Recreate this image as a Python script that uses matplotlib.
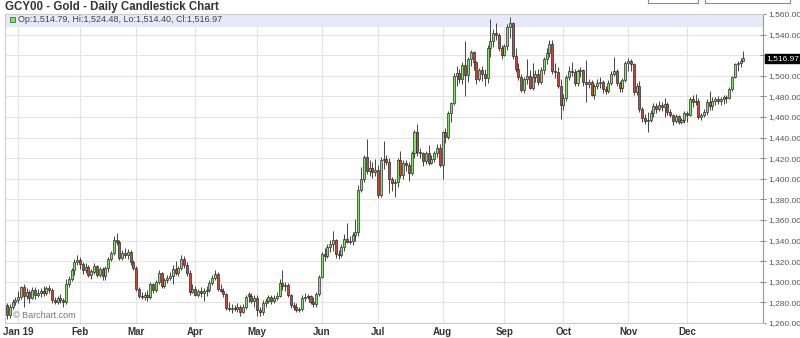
import numpy as np
import pandas as pd
import matplotlib
matplotlib.use('Agg')
import matplotlib.pyplot as plt
from matplotlib.patches import Rectangle

plt.rcParams['font.family'] = ['Liberation Sans', 'DejaVu Sans']

# daily OHLC, 2018-12-26 .. 2019-12-31 (all weekdays except Jan 1 and Dec 25)
opens = [1277, 1268, 1276, 1280, 1282, 1285, 1295, 1286, 1290, 1284, 1292, 1287, 1289, 1291, 1289, 1294,
         1292, 1282, 1280, 1284, 1282, 1280, 1298, 1303, 1311, 1319, 1321, 1317, 1311, 1314, 1307, 1310,
         1315, 1307, 1312, 1306, 1313, 1322, 1328, 1341, 1339, 1323, 1328, 1326, 1329, 1319, 1313, 1293,
         1286, 1285, 1287, 1285, 1298, 1292, 1300, 1309, 1296, 1302, 1304, 1306, 1312, 1309, 1313, 1322,
         1316, 1309, 1290, 1293, 1287, 1291, 1289, 1291, 1292, 1299, 1304, 1308, 1293, 1291, 1288, 1275,
         1274, 1275, 1274, 1276, 1271, 1276, 1288, 1286, 1281, 1284, 1273, 1271, 1279, 1281, 1285, 1281,
         1284, 1286, 1299, 1296, 1297, 1287, 1277, 1276, 1273, 1274, 1284, 1285, 1286, 1280, 1278, 1288,
         1305, 1327, 1325, 1334, 1337, 1341, 1327, 1326, 1334, 1342, 1339, 1340, 1345, 1348, 1389, 1400,
         1421, 1408, 1410, 1407, 1409, 1384, 1418, 1419, 1416, 1400, 1396, 1397, 1418, 1404, 1415, 1413,
         1406, 1425, 1445, 1426, 1425, 1417, 1425, 1415, 1419, 1425, 1430, 1413, 1445, 1441, 1464, 1474,
         1500, 1503, 1497, 1510, 1501, 1516, 1523, 1513, 1497, 1506, 1502, 1498, 1527, 1534, 1542, 1540,
         1527, 1520, 1529, 1547, 1551, 1519, 1507, 1499, 1486, 1497, 1500, 1488, 1499, 1502, 1494, 1506,
         1516, 1522, 1531, 1505, 1504, 1490, 1472, 1478, 1499, 1505, 1504, 1493, 1505, 1506, 1494, 1492,
         1494, 1481, 1490, 1493, 1494, 1487, 1485, 1493, 1502, 1505, 1493, 1488, 1496, 1512, 1514, 1511,
         1484, 1490, 1468, 1459, 1456, 1457, 1464, 1471, 1468, 1472, 1470, 1473, 1465, 1462, 1456, 1461,
         1455, 1457, 1464, 1462, 1477, 1475, 1476, 1460, 1462, 1465, 1475, 1471, 1476, 1477, 1476, 1477,
         1479, 1478, 1487, 1499, 1511, 1512, 1514.79]
highs = [1279, 1278, 1283, 1285, 1291, 1296, 1298, 1294, 1292, 1295, 1295, 1293, 1294, 1296, 1296, 1297,
         1294, 1285, 1286, 1288, 1284, 1303, 1306, 1313, 1322, 1326, 1324, 1319, 1318, 1316, 1312, 1318,
         1316, 1314, 1314, 1315, 1324, 1330, 1344, 1347, 1341, 1331, 1333, 1332, 1331, 1321, 1315, 1295,
         1290, 1290, 1292, 1300, 1299, 1302, 1311, 1310, 1304, 1307, 1310, 1316, 1320, 1315, 1326, 1325,
         1319, 1311, 1298, 1296, 1293, 1295, 1294, 1296, 1302, 1307, 1311, 1310, 1298, 1294, 1289, 1280,
         1278, 1277, 1279, 1277, 1278, 1287, 1290, 1289, 1287, 1287, 1276, 1282, 1284, 1287, 1287, 1287,
         1290, 1303, 1311, 1300, 1299, 1288, 1280, 1279, 1276, 1287, 1289, 1288, 1287, 1285, 1290, 1307,
         1329, 1333, 1337, 1341, 1349, 1342, 1331, 1337, 1346, 1357, 1344, 1348, 1361, 1394, 1411, 1423,
         1439, 1418, 1416, 1419, 1413, 1421, 1437, 1423, 1420, 1402, 1400, 1420, 1427, 1418, 1418, 1416,
         1427, 1447, 1453, 1430, 1426, 1427, 1433, 1423, 1427, 1434, 1434, 1446, 1449, 1466, 1475, 1503,
         1510, 1507, 1513, 1534, 1518, 1525, 1524, 1514, 1508, 1510, 1507, 1530, 1555, 1545, 1551, 1542,
         1530, 1531, 1550, 1557, 1552, 1527, 1512, 1502, 1499, 1516, 1506, 1512, 1506, 1507, 1509, 1518,
         1527, 1535, 1535, 1512, 1509, 1497, 1482, 1501, 1510, 1513, 1507, 1507, 1509, 1507, 1515, 1497,
         1496, 1492, 1497, 1499, 1496, 1490, 1496, 1505, 1518, 1507, 1495, 1498, 1514, 1517, 1516, 1512,
         1493, 1495, 1470, 1463, 1465, 1467, 1474, 1474, 1476, 1475, 1478, 1475, 1468, 1463, 1463, 1462,
         1459, 1466, 1466, 1479, 1481, 1482, 1478, 1464, 1468, 1477, 1485, 1479, 1479, 1480, 1479, 1481,
         1481, 1489, 1500, 1512, 1514, 1517, 1524.48]
lows = [1264, 1265, 1274, 1277, 1279, 1283, 1276, 1283, 1279, 1283, 1283, 1285, 1285, 1286, 1287, 1289,
        1279, 1278, 1278, 1279, 1276, 1278, 1295, 1301, 1307, 1316, 1312, 1308, 1309, 1305, 1303, 1308,
        1305, 1305, 1302, 1302, 1310, 1320, 1326, 1336, 1321, 1321, 1323, 1322, 1316, 1311, 1291, 1284,
        1283, 1282, 1281, 1283, 1289, 1290, 1298, 1294, 1294, 1299, 1302, 1298, 1307, 1306, 1311, 1313,
        1306, 1287, 1289, 1286, 1285, 1285, 1281, 1286, 1290, 1297, 1302, 1291, 1290, 1285, 1273, 1272,
        1270, 1272, 1271, 1267, 1270, 1274, 1280, 1279, 1276, 1267, 1267, 1268, 1276, 1279, 1278, 1279,
        1282, 1285, 1292, 1291, 1285, 1275, 1273, 1271, 1271, 1272, 1281, 1283, 1278, 1276, 1276, 1286,
        1304, 1320, 1323, 1329, 1330, 1323, 1322, 1324, 1330, 1338, 1337, 1336, 1340, 1344, 1387, 1397,
        1405, 1403, 1401, 1403, 1381, 1382, 1410, 1413, 1386, 1388, 1382, 1392, 1401, 1400, 1408, 1398,
        1404, 1420, 1422, 1420, 1412, 1414, 1413, 1414, 1416, 1421, 1411, 1400, 1435, 1439, 1455, 1472,
        1490, 1493, 1492, 1480, 1494, 1510, 1506, 1492, 1495, 1495, 1490, 1493, 1518, 1528, 1535, 1524,
        1516, 1519, 1525, 1537, 1516, 1504, 1496, 1484, 1483, 1492, 1487, 1486, 1494, 1491, 1492, 1502,
        1511, 1518, 1502, 1498, 1488, 1458, 1467, 1476, 1496, 1500, 1490, 1490, 1499, 1490, 1475, 1488,
        1480, 1477, 1487, 1488, 1483, 1482, 1483, 1491, 1500, 1490, 1484, 1484, 1494, 1505, 1505, 1481,
        1481, 1465, 1455, 1453, 1445, 1455, 1460, 1464, 1466, 1466, 1460, 1462, 1460, 1452, 1454, 1453,
        1453, 1454, 1455, 1461, 1470, 1472, 1458, 1457, 1460, 1462, 1467, 1467, 1472, 1473, 1472, 1473,
        1474, 1477, 1485, 1498, 1505, 1509, 1514.40]
closes = [1268, 1276, 1280, 1282, 1285, 1295, 1286, 1290, 1284, 1292, 1287, 1289, 1291, 1289, 1294, 1292,
          1282, 1280, 1284, 1282, 1280, 1298, 1303, 1311, 1319, 1321, 1317, 1311, 1314, 1307, 1310, 1315,
          1307, 1312, 1306, 1313, 1322, 1328, 1341, 1339, 1323, 1328, 1326, 1329, 1319, 1313, 1293, 1286,
          1285, 1287, 1285, 1298, 1292, 1300, 1309, 1296, 1302, 1304, 1306, 1312, 1309, 1313, 1322, 1316,
          1309, 1290, 1293, 1287, 1291, 1289, 1291, 1292, 1299, 1304, 1308, 1293, 1291, 1288, 1275, 1274,
          1275, 1274, 1276, 1271, 1276, 1285, 1286, 1281, 1284, 1273, 1271, 1279, 1281, 1285, 1281, 1284,
          1286, 1299, 1296, 1297, 1287, 1277, 1276, 1273, 1274, 1284, 1285, 1286, 1280, 1278, 1288, 1305,
          1327, 1325, 1334, 1337, 1341, 1327, 1326, 1334, 1342, 1339, 1340, 1345, 1348, 1389, 1400, 1421,
          1408, 1410, 1407, 1409, 1384, 1418, 1419, 1416, 1400, 1396, 1397, 1418, 1404, 1415, 1413, 1406,
          1425, 1445, 1426, 1425, 1417, 1425, 1415, 1419, 1425, 1430, 1413, 1445, 1441, 1464, 1474, 1500,
          1503, 1497, 1510, 1501, 1516, 1523, 1513, 1497, 1506, 1502, 1498, 1527, 1534, 1542, 1540, 1527,
          1520, 1529, 1547, 1551, 1519, 1507, 1499, 1486, 1497, 1500, 1488, 1499, 1502, 1494, 1506, 1516,
          1522, 1531, 1505, 1504, 1490, 1472, 1478, 1499, 1505, 1504, 1493, 1505, 1506, 1494, 1492, 1494,
          1481, 1490, 1493, 1494, 1487, 1485, 1493, 1502, 1505, 1493, 1488, 1496, 1512, 1514, 1511, 1484,
          1490, 1468, 1459, 1456, 1457, 1464, 1471, 1468, 1472, 1470, 1473, 1465, 1462, 1456, 1461, 1455,
          1457, 1464, 1462, 1477, 1475, 1476, 1460, 1462, 1465, 1475, 1471, 1476, 1477, 1476, 1477, 1479,
          1478, 1487, 1499, 1511, 1512, 1514.79, 1516.97]

month_labels = ['Jan 19', 'Feb', 'Mar', 'Apr', 'May', 'Jun', 'Jul', 'Aug', 'Sep', 'Oct', 'Nov', 'Dec']
price_ticks = list(range(1260, 1561, 20))

dates = pd.bdate_range('2018-12-26', '2019-12-31')
dates = dates[~dates.isin(pd.to_datetime(['2019-01-01', '2019-12-25']))]

o = np.array(opens, dtype=float)
h = np.array(highs, dtype=float)
l = np.array(lows, dtype=float)
c = np.array(closes, dtype=float)
n = min(len(dates), len(o), len(h), len(l), len(c))
o, h, l, c = o[:n], h[:n], l[:n], c[:n]
x = np.arange(n)

month_pos = [int(np.argmax((dates.year == 2019) & (dates.month == m))) for m in range(1, 13)]

fig = plt.figure(figsize=(8, 3.38), dpi=100)
ax = fig.add_axes([5 / 800, 1 - 323 / 338, 758 / 800, 309 / 338])

grid_col = '#e3e3e3'
for v in price_ticks:
    ax.axhline(v, color=grid_col, lw=0.8, zorder=0)
for p in month_pos:
    ax.axvline(p, color=grid_col, lw=0.8, zorder=0)

# top info band
ax.axhspan(1548.5, 1560, color='#e8e8f8', zorder=0.5)

up = c >= o
ax.vlines(x, l, h, color='#444444', lw=0.7, zorder=2)
body_h = np.maximum(np.abs(c - o), 0.6)
ax.bar(x[up], body_h[up], bottom=np.minimum(o, c)[up], width=0.72,
       color='#86e06a', edgecolor='#2a2a2a', lw=0.5, zorder=3)
ax.bar(x[~up], body_h[~up], bottom=np.minimum(o, c)[~up], width=0.72,
       color='#c8463a', edgecolor='#2a2a2a', lw=0.5, zorder=3)

ax.set_xlim(-0.7, 269)
ax.set_ylim(1260, 1560)

# the last-price tag sits where the nearest label would be
last_near = min(price_ticks, key=lambda v: abs(v - c[-1]))
ylabels = ['' if v == last_near else f'{v:,.2f}' for v in price_ticks]

ax.yaxis.tick_right()
ax.set_yticks(price_ticks)
ax.set_yticklabels(ylabels, fontsize=6, color='#555555')
ax.tick_params(axis='y', direction='inout', length=5, width=0.6, color='#777777', pad=1)
ax.set_xticks(month_pos)
ax.set_xticklabels(month_labels, fontsize=7, color='#333333', fontweight='bold')
ax.tick_params(axis='x', length=0, pad=3)

for s in ['left', 'top', 'bottom']:
    ax.spines[s].set_color('#cccccc')
    ax.spines[s].set_linewidth(0.8)
ax.spines['right'].set_color('#999999')
ax.spines['right'].set_linewidth(0.8)

# last price tag
ax.text(1.004, c[-1], f'{c[-1]:,.2f}', transform=ax.get_yaxis_transform(),
        fontsize=6, color='white', va='center', ha='left',
        bbox=dict(boxstyle='square,pad=0.15', fc='black', ec='black'))

# header texts
fig.text(5 / 800, 1 - 7 / 338, 'GCY00 - Gold - Daily Candlestick Chart', fontsize=8.3,
         color='#333333', fontweight='bold', va='center', ha='left')
fig.patches.append(Rectangle((10 / 800, 1 - 22 / 338), 5 / 800, 5 / 338, transform=fig.transFigure,
                             fc='#86e06a', ec='#2a7a2a', lw=0.6))
fig.text(18 / 800, 1 - 19.5 / 338,
         f'Op:{o[-1]:,.2f}, Hi:{h[-1]:,.2f}, Lo:{l[-1]:,.2f}, Cl:{c[-1]:,.2f}',
         fontsize=6.5, color='#444444', va='center', ha='left')
fig.text(13 / 800, 1 - 316 / 338, '© Barchart.com', fontsize=6.5, color='#777777',
         va='center', ha='left')

# tab outlines at top right
for x0, w in [(648, 50), (705, 85)]:
    fig.patches.append(Rectangle((x0 / 800, 1 - 3 / 338), w / 800, 6 / 338, transform=fig.transFigure,
                                 fc='white', ec='#6b8cc4', lw=0.8))

fig.savefig('out.png', dpi=100)
